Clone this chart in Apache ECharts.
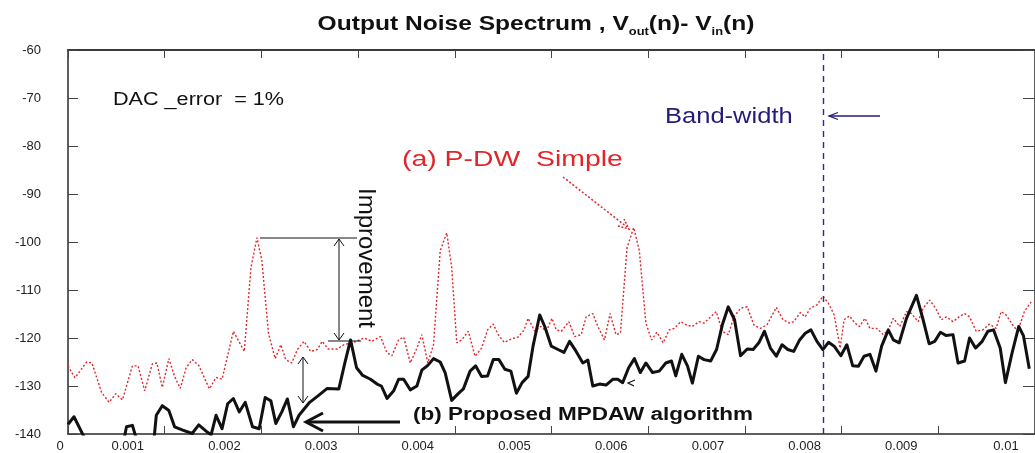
<!DOCTYPE html>
<html><head><meta charset="utf-8">
<script src="https://cdn.jsdelivr.net/npm/echarts@6/dist/echarts.min.js"></script>
<style>html,body{margin:0;padding:0;background:#fff}#c{width:1035px;height:453px}</style>
</head><body><div id="c"></div>
<script>
// frequency in units of 0.001 (axis labels show real value)
const yTicks = [-140,-130,-120,-110,-100,-90,-80,-70,-60];
const xTickLabels = ['0','0.001','0.002','0.003','0.004','0.005','0.006','0.007','0.008','0.009','0.01'];
const bandwidth = 7.806;

const redX = [0,0.072,0.193,0.247,0.347,0.425,0.494,0.563,0.666,0.724,
0.793,0.872,0.920,0.975,1.043,1.102,1.161,1.222,1.284,1.352,
1.462,1.531,1.593,1.710,1.823,1.892,1.954,2.005,2.073,2.142,
2.201,2.252,2.314,2.372,2.441,2.510,2.578,2.629,2.691,2.784,
2.853,2.938,2.984,3.059,3.144,3.231,3.299,3.350,3.419,3.471,
3.540,3.608,3.659,3.721,3.780,3.849,3.917,3.968,4.020,4.071,
4.140,4.209,4.277,4.339,4.398,4.449,4.511,4.586,4.655,4.717,
4.758,4.827,4.889,4.946,5.005,5.049,5.101,5.180,5.239,5.307,
5.358,5.427,5.479,5.548,5.606,5.667,5.713,5.781,5.850,5.908,
5.976,6.035,6.090,6.155,6.217,6.269,6.337,6.398,6.457,6.526,
6.578,6.646,6.704,6.766,6.828,6.887,6.955,7.024,7.093,7.161,
7.230,7.325,7.394,7.463,7.505,7.573,7.624,7.676,7.745,7.806,
7.865,7.923,7.985,8.026,8.081,8.139,8.184,8.242,8.293,8.363,
8.431,8.483,8.535,8.602,8.671,8.723,8.792,8.843,8.911,8.973,
9.032,9.083,9.152,9.214,9.272,9.323,9.392,9.461,9.529,9.598,
9.650,9.701,9.770,9.822,9.890,9.959];
const redY = [-125.8,-128.3,-125.0,-125.2,-131.3,-133.4,-131.6,-132.9,-125.8,-125.8,
-131.0,-125.4,-125.2,-130.3,-124.3,-128.0,-130.5,-126.2,-124.5,-125.7,
-130.6,-128.2,-128.6,-118.6,-122.8,-105.3,-99.1,-103.9,-119.0,-124.3,
-121.4,-124.5,-125.2,-122.4,-120.7,-122.8,-122.4,-120.7,-122.3,-122.3,
-121.4,-121.0,-120.7,-120.0,-120.7,-119.7,-123.1,-123.7,-120.4,-119.8,
-125.2,-122.1,-119.3,-125.2,-121.4,-101.8,-98.1,-105.3,-121.0,-120.4,
-118.6,-123.8,-122.1,-118.3,-117.1,-119.3,-120.9,-120.2,-119.8,-118.3,
-115.9,-118.6,-117.6,-118.6,-115.9,-118.3,-118.6,-116.6,-119.7,-119.3,
-115.6,-114.9,-117.6,-120.4,-114.9,-119.3,-119.0,-101.2,-97.0,-101.8,
-116.9,-120.4,-118.8,-121.0,-118.3,-118.0,-116.6,-117.3,-117.6,-116.6,
-116.9,-115.6,-114.5,-118.6,-119.3,-115.6,-113.8,-113.5,-117.3,-118.0,
-117.2,-113.6,-116.2,-116.9,-116.6,-114.7,-115.6,-113.8,-113.1,-111.3,
-112.8,-115.2,-122.1,-116.2,-115.4,-116.9,-117.6,-115.9,-118.0,-118.0,
-119.3,-118.3,-115.9,-117.6,-114.5,-114.9,-116.6,-113.8,-112.1,-113.8,
-116.2,-115.6,-116.6,-115.6,-114.9,-115.6,-118.6,-118.3,-117.1,-118.0,
-114.5,-115.2,-117.3,-118.6,-114.5,-112.5];

const blackX = [0,0.062,0.158,0.25,0.55,0.58,0.605,0.666,0.700,0.80,
0.87,0.89,0.913,0.975,1.043,1.102,1.187,1.284,1.352,1.428,
1.480,1.531,1.593,1.651,1.710,1.771,1.833,1.908,1.977,2.039,
2.098,2.149,2.211,2.269,2.331,2.389,2.499,2.595,2.681,2.801,
2.863,2.922,2.984,3.048,3.128,3.196,3.241,3.299,3.368,3.419,
3.471,3.540,3.608,3.659,3.721,3.780,3.849,3.900,3.968,4.030,
4.089,4.158,4.215,4.277,4.339,4.398,4.456,4.518,4.580,4.637,
4.696,4.758,4.809,4.878,4.930,4.998,5.067,5.129,5.187,5.255,
5.324,5.376,5.427,5.496,5.564,5.633,5.685,5.736,5.798,5.857,
5.919,5.976,6.045,6.114,6.182,6.241,6.285,6.347,6.406,6.457,
6.519,6.578,6.646,6.707,6.766,6.828,6.893,6.955,7.024,7.085,
7.144,7.202,7.264,7.325,7.384,7.443,7.505,7.566,7.624,7.683,
7.745,7.806,7.865,7.923,7.992,8.054,8.115,8.174,8.232,8.293,
8.355,8.414,8.483,8.535,8.596,8.671,8.774,8.843,8.905,8.963,
9.022,9.083,9.152,9.204,9.272,9.323,9.385,9.454,9.513,9.571,
9.640,9.694,9.763,9.832,9.880,9.941];
const blackY = [-138.0,-136.4,-140.3,-143,-143,-141,-138.5,-138.2,-140.5,-143,
-143,-141,-136.1,-134.1,-135.1,-138.5,-139.2,-139.9,-138.1,-139.4,
-140.2,-136.1,-138.9,-133.7,-132.6,-135.4,-133.4,-138.5,-138.9,-132.4,
-133.1,-137.8,-135.4,-132.7,-138.5,-136.1,-133.4,-131.9,-130.5,-130.6,
-125.2,-120.4,-126.2,-127.8,-128.6,-129.6,-130.0,-132.6,-131.0,-128.6,
-128.6,-130.8,-130.0,-126.7,-125.7,-124.3,-125.0,-127.2,-133.0,-131.7,
-130.6,-126.9,-125.8,-128.0,-127.9,-124.5,-124.5,-126.5,-126.9,-131.5,
-129.3,-128.0,-121.7,-115.2,-117.6,-121.7,-122.4,-123.0,-120.7,-122.8,
-125.2,-124.6,-130.0,-129.6,-129.8,-128.6,-128.6,-129.3,-126.2,-124.3,
-127.2,-125.2,-127.2,-126.9,-125.2,-124.8,-127.9,-123.4,-125.8,-129.4,
-123.8,-124.5,-124.8,-122.4,-117.3,-113.5,-116.2,-123.7,-122.3,-122.4,
-121.0,-118.6,-122.1,-123.8,-121.4,-122.4,-122.8,-120.4,-119.0,-118.3,
-120.7,-122.4,-120.9,-121.7,-123.7,-121.4,-125.8,-125.9,-123.8,-123.4,
-126.9,-121.7,-118.3,-120.4,-121.0,-115.9,-111.1,-116.2,-121.2,-120.7,
-118.8,-119.5,-119.3,-125.2,-124.8,-120.0,-122.1,-120.7,-118.6,-118.3,
-122.1,-129.3,-123.1,-117.6,-119.5,-126.4];

const FONT = "'Liberation Sans', Arial, sans-serif";
const chart = echarts.init(document.getElementById('c'), null, {renderer:'canvas'});
const pairs = (xs, ys) => xs.map((x, i) => [x, ys[i]]);

function labelRich(v){
  const i = Math.round(v);
  const t = xTickLabels[i];
  if (i === 0) return '{z|' + t + '}';
  if (i === 10) return '{e|' + t + '}';
  return '{a|' + t + '}';
}

const axisLineStyle = {color:'#2a2a2a', width:1.5};
const tickStyle = {color:'#444', width:1};

function line(pts, color, width, dash){
  return {type:'polyline', silent:true, z:100, shape:{points:pts},
    style:{stroke:color, lineWidth:width, fill:null, lineDash:dash||null, lineCap:'butt', lineJoin:'miter'}};
}
function txt(x, y, text, font, color, opts){
  return Object.assign({type:'text', silent:true, z:100, x:x, y:y,
    style:{text:text, font:font, fill:color, align:'left', verticalAlign:'middle'}}, opts||{});
}

const graphics = [
  // title
  {type:'text', silent:true, z:100, x:536, y:24, scaleX:1.17,
   style:{text:'{t|Output Noise Spectrum , V}{s|out}{t|(n)- V}{s|in}{t|(n)}', align:'center', verticalAlign:'middle',
     rich:{t:{font:'bold 21px ' + FONT, fill:'#111', verticalAlign:'bottom'},
           s:{font:'bold 11px ' + FONT, fill:'#111', verticalAlign:'bottom', padding:[0,0,-3,0]}}}},
  txt(113, 100, 'DAC _error  = 1%', '18px ' + FONT, '#111', {scaleX:1.2}),
  txt(665, 117, 'Band-width', '22px ' + FONT, '#231b78', {scaleX:1.16}),
  line([[880,116],[829,116]], '#231b78', 1.3),
  line([[838,112.5],[829,116],[838,119.5]], '#231b78', 1.3),
  txt(402, 160, '(a) P-DW  Simple', '22px ' + FONT, '#e0262a', {scaleX:1.29}),
  line([[563,177],[627,227]], '#e0262a', 1.5, [2,2]),
  line([[618,226],[629,229],[624,219]], '#e0262a', 1.5, [2,1.5]),
  // improvement
  {type:'text', silent:true, z:100, x:366, y:258, rotation:-Math.PI/2,
   style:{text:'Improvement', font:'24px ' + FONT, fill:'#111', align:'center', verticalAlign:'middle'}},
  line([[260,238],[357,238]], '#111', 1),
  line([[339,239],[339,340]], '#111', 1),
  line([[334,246],[339,239],[344,246]], '#111', 1),
  line([[334,333],[339,340],[344,333]], '#111', 1),
  line([[328,341],[361,341]], '#111', 1),
  line([[303,357],[303,403]], '#111', 1),
  line([[298,364],[303,357],[308,364]], '#111', 1),
  line([[298,396],[303,403],[308,396]], '#111', 1),
  // proposed
  line([[400,422],[307,422]], '#111', 3),
  line([[323,413],[306,422],[323,431]], '#111', 3),
  txt(413, 415, '(b) Proposed MPDAW algorithm', 'bold 18px ' + FONT, '#111', {scaleX:1.25}),
  line([[635,380],[628,383],[634,386]], '#111', 1.2)
];

const option = {
  animation:false,
  backgroundColor:'#fff',
  grid:{left:68, right:-4, top:50, bottom:15, containLabel:false},
  xAxis:[{
    type:'value', min:0, max:10, interval:1, position:'bottom',
    axisLine:{show:true, onZero:false, lineStyle:axisLineStyle},
    axisTick:{show:true, inside:true, length:8, lineStyle:tickStyle},
    splitLine:{show:false},
    axisLabel:{show:true, margin:6, formatter:labelRich, color:'#222',
      rich:{a:{fontFamily:FONT, fontSize:13, color:'#222', padding:[0,74,0,0]},
            z:{fontFamily:FONT, fontSize:13, color:'#222', padding:[0,16,0,0]},
            e:{fontFamily:FONT, fontSize:13, color:'#222', padding:[0,58,0,0]}}}
  },{
    type:'value', min:0, max:10, interval:1, position:'top',
    axisLine:{show:true, onZero:false, lineStyle:{color:'#3a3a3a', width:2}},
    axisTick:{show:true, inside:true, length:8, lineStyle:tickStyle},
    splitLine:{show:false}, axisLabel:{show:false}
  }],
  yAxis:[{
    type:'value', min:-140, max:-60, interval:10, position:'left',
    axisLine:{show:true, onZero:false, lineStyle:axisLineStyle},
    axisTick:{show:true, inside:true, length:10, lineStyle:tickStyle},
    splitLine:{show:false},
    axisLabel:{show:true, margin:27, align:'right', fontFamily:FONT, fontSize:13, color:'#222',
      formatter:(v)=> yTicks.indexOf(v) >= 0 ? String(v) : ''}
  },{
    type:'value', min:-140, max:-60, interval:10, position:'right',
    axisLine:{show:true, onZero:false, lineStyle:axisLineStyle},
    axisTick:{show:true, inside:true, length:12, lineStyle:tickStyle},
    splitLine:{show:false}, axisLabel:{show:false}
  }],
  series:[{
    type:'line', name:'(a) P-DW Simple', data:pairs(redX, redY), symbol:'none', clip:true,
    lineStyle:{color:'#e3262b', width:1.4, type:[2,2]}, z:3
  },{
    type:'line', name:'(b) Proposed MPDAW algorithm', data:pairs(blackX, blackY), symbol:'none', clip:true,
    lineStyle:{color:'#111', width:3, join:'round'}, z:4,
    markLine:{silent:true, symbol:['none','none'], label:{show:false},
      lineStyle:{color:'#2e2a8c', width:1.4, type:[6,5]},
      data:[{xAxis:bandwidth}]}
  }],
  graphic:graphics
};
chart.setOption(option);
</script>
</body></html>
